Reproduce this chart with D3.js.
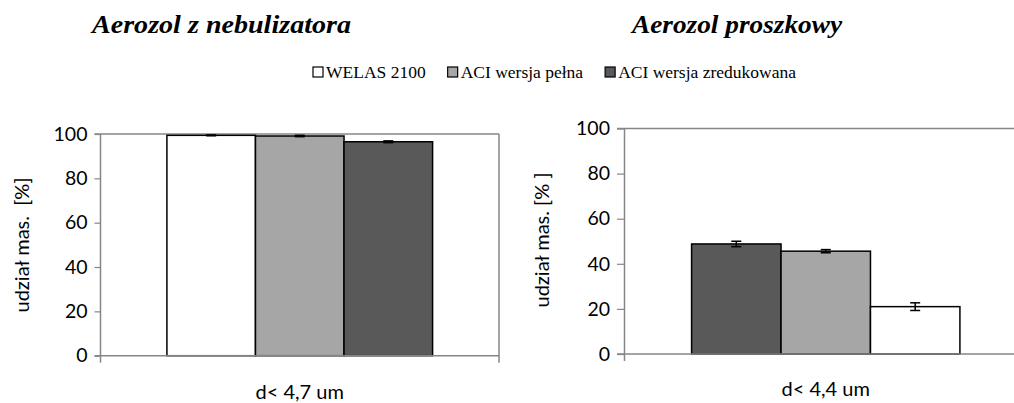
<!DOCTYPE html>
<html>
<head>
<meta charset="utf-8">
<script src="https://cdn.jsdelivr.net/npm/d3@7"></script>
<style>
  body { margin: 0; background: #fff; }
  svg { display: block; }
  .tick text { font-family: Lato, "Open Sans", sans-serif; font-size: 19.5px; fill: #000; }
</style>
</head>
<body>
<div id="chart"></div>
<script>
// series names (legend order)
var seriesNames = ["WELAS 2100", "ACI wersja pełna", "ACI wersja zredukowana"]
var seriesColors = ["#ffffff", "#a6a6a6", "#595959"]

// left panel: nebulizer aerosol
var leftTitle = "Aerozol z nebulizatora"
var leftCategory = "d< 4,7 um"
var leftOrder = ["WELAS 2100", "ACI wersja pełna", "ACI wersja zredukowana"]
var leftValues = [99.4, 99.1, 96.5]
var leftErrors = [0.2, 0.3, 0.4]
var leftYLabel = "udział mas.  [%]"

// right panel: powder aerosol
var rightTitle = "Aerozol proszkowy"
var rightCategory = "d< 4,4 um"
var rightOrder = ["ACI wersja zredukowana", "ACI wersja pełna", "WELAS 2100"]
var rightValues = [48.8, 45.6, 21.0]
var rightErrors = [1.2, 0.7, 1.7]
var rightYLabel = "udział mas. [% ]"

var yTicks = [0, 20, 40, 60, 80, 100]

var width = 1014, height = 403
var svg = d3.select("#chart").append("svg")
  .attr("width", width)
  .attr("height", height)

var color = d3.scaleOrdinal().domain(seriesNames).range(seriesColors)

function drawPanel(opt) {
  var g = svg.append("g")

  var y = d3.scaleLinear().domain([0, 100]).range([opt.bottom, opt.top])

  var xCat = d3.scaleBand()
    .domain([opt.category])
    .range([opt.left, opt.right])
    .paddingInner(0)
    .paddingOuter(0.25)

  var xSer = d3.scaleBand()
    .domain(opt.order)
    .range([0, xCat.bandwidth()])

  // value axis ticks and labels
  var yAxis = g.append("g")
    .attr("transform", "translate(" + opt.left + ",0)")
    .call(d3.axisLeft(y).tickValues(yTicks).tickSize(opt.tick).tickPadding(opt.pad))
  yAxis.select(".domain").remove()
  yAxis.selectAll(".tick line").attr("stroke", "#868686").attr("stroke-width", 1.2)

  // line at 100
  g.append("line")
    .attr("x1", opt.left - opt.tick).attr("x2", opt.right)
    .attr("y1", y(100)).attr("y2", y(100))
    .attr("stroke", "#868686").attr("stroke-width", 1.5)

  // vertical borders (extend down as category ticks)
  ;[opt.left, opt.right].forEach(function(xv) {
    g.append("line")
      .attr("x1", xv).attr("x2", xv)
      .attr("y1", y(100)).attr("y2", y(0) + 7)
      .attr("stroke", "#868686").attr("stroke-width", 1.5)
  })

  // bars
  var data = opt.order.map(function(name, i) {
    return { name: name, value: opt.values[i], err: opt.errors[i] }
  })

  g.append("g").selectAll("rect")
    .data(data)
    .enter()
    .append("rect")
      .attr("x", function(d) { return xCat(opt.category) + xSer(d.name) })
      .attr("y", function(d) { return y(d.value) })
      .attr("width", xSer.bandwidth())
      .attr("height", function(d) { return y(0) - y(d.value) })
      .attr("fill", function(d) { return color(d.name) })
      .attr("stroke", "#000")
      .attr("stroke-width", 1.5)

  // x axis line at 0
  g.append("line")
    .attr("x1", opt.left - opt.tick).attr("x2", opt.right)
    .attr("y1", y(0)).attr("y2", y(0))
    .attr("stroke", "#868686").attr("stroke-width", 1.5)

  // error bars
  var eb = g.append("g").selectAll("g")
    .data(data)
    .enter()
    .append("g")
      .attr("transform", function(d) {
        return "translate(" + (xCat(opt.category) + xSer(d.name) + xSer.bandwidth() / 2) + ",0)"
      })
  eb.append("line")
    .attr("y1", function(d) { return y(d.value - d.err) })
    .attr("y2", function(d) { return y(d.value + d.err) })
    .attr("stroke", "#000").attr("stroke-width", 1.5)
  eb.append("line")
    .attr("x1", -5).attr("x2", 5)
    .attr("y1", function(d) { return y(d.value + d.err) })
    .attr("y2", function(d) { return y(d.value + d.err) })
    .attr("stroke", "#000").attr("stroke-width", 1.5)
  eb.append("line")
    .attr("x1", -5).attr("x2", 5)
    .attr("y1", function(d) { return y(d.value - d.err) })
    .attr("y2", function(d) { return y(d.value - d.err) })
    .attr("stroke", "#000").attr("stroke-width", 1.5)

  // category label
  g.append("text")
    .attr("x", xCat(opt.category) + xCat.bandwidth() / 2)
    .attr("y", opt.catY)
    .attr("text-anchor", "middle")
    .style("font-family", "Lato, 'Open Sans', sans-serif")
    .style("font-size", "20px")
    .text(opt.category)

  // y axis title
  g.append("text")
    .attr("transform", "translate(" + opt.yLabelX + "," + opt.yLabelY + ") rotate(-90)")
    .attr("text-anchor", "middle")
    .style("font-family", "Lato, 'Open Sans', sans-serif")
    .style("font-size", "20px")
    .style("white-space", "pre")
    .text(opt.yLabel)

  // title
  g.append("text")
    .attr("x", opt.titleX)
    .attr("y", 33)
    .attr("textLength", opt.titleW)
    .attr("lengthAdjust", "spacingAndGlyphs")
    .style("font-family", "'Liberation Serif', 'DejaVu Serif', serif")
    .style("font-weight", "bold")
    .style("font-style", "italic")
    .style("font-size", "25px")
    .text(opt.title)
}

drawPanel({
  title: leftTitle, titleX: 92, titleW: 259,
  category: leftCategory, order: leftOrder, values: leftValues, errors: leftErrors,
  yLabel: leftYLabel, yLabelX: 29, yLabelY: 245,
  left: 100.5, right: 499, top: 134, bottom: 355.7,
  tick: 6, pad: 7, catY: 399
})

drawPanel({
  title: rightTitle, titleX: 632, titleW: 210,
  category: rightCategory, order: rightOrder, values: rightValues, errors: rightErrors,
  yLabel: rightYLabel, yLabelX: 549, yLabelY: 240,
  left: 624.5, right: 1027, top: 128.5, bottom: 354,
  tick: 7.5, pad: 7, catY: 396
})

// legend
var legend = svg.append("g").attr("transform", "translate(313,72)")
var lx = 0
seriesNames.forEach(function(name) {
  var item = legend.append("g").attr("transform", "translate(" + lx + ",0)")
  item.append("rect")
    .attr("x", 0).attr("y", -5)
    .attr("width", 10).attr("height", 10)
    .attr("fill", color(name))
    .attr("stroke", "#000")
    .attr("stroke-width", 1.2)
  var t = item.append("text")
    .attr("x", 13).attr("y", 5.5)
    .style("font-family", "'Liberation Serif', 'DejaVu Serif', serif")
    .style("font-size", "17.5px")
    .text(name)
  lx += 13 + t.node().getComputedTextLength() + 22
})
</script>
</body>
</html>
